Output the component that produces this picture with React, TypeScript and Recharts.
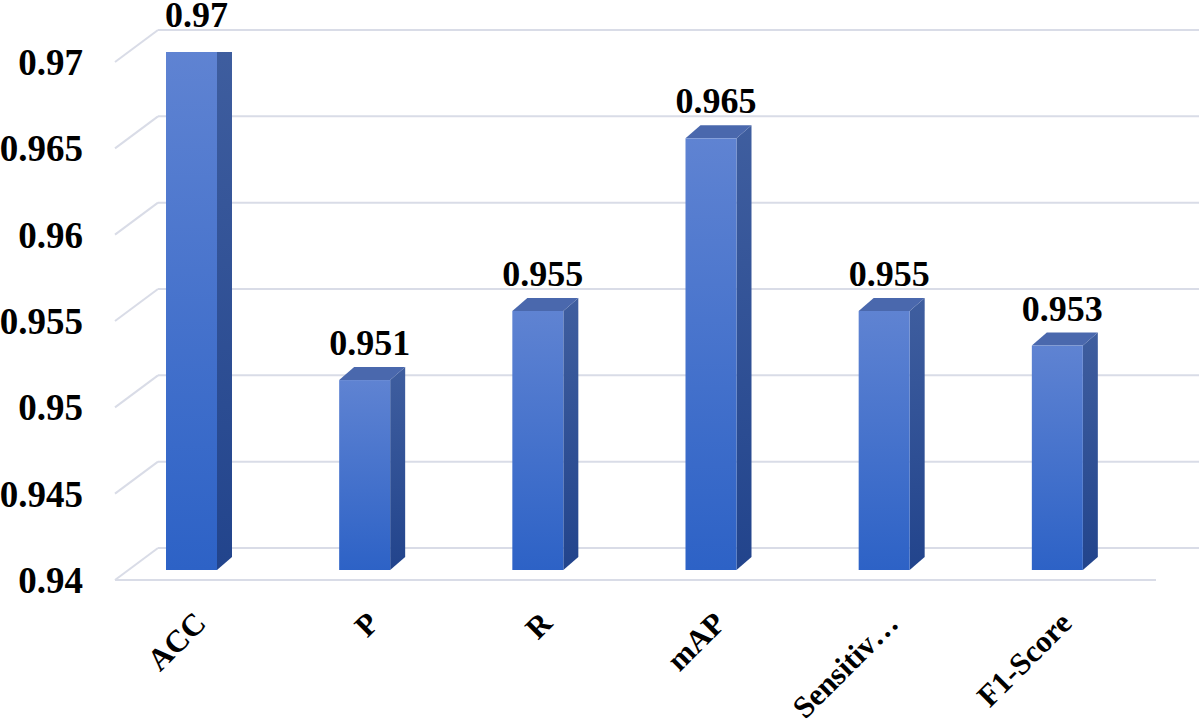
import React from 'react';
import { BarChart, Bar, XAxis, YAxis, CartesianGrid, LabelList } from 'recharts';

const categories = ['ACC', 'P', 'R', 'mAP', 'Sensitiv…', 'F1-Score'];
const scores = [0.97, 0.951, 0.955, 0.965, 0.955, 0.953];
const yTicks = [0.94, 0.945, 0.95, 0.955, 0.96, 0.965, 0.97];
const yTickLabels = ['0.94', '0.945', '0.95', '0.955', '0.96', '0.965', '0.97'];

const data = categories.map((name, i) => ({ name, value: scores[i] }));

const FONT = 'Liberation Serif';
const GRID = '#d9dce7';
// 3D depth of each bar
const DX = 15;
const DY = 13;

const Bar3D = (props: any) => {
  const { x, y, width, height, index } = props;
  const f = `front-${index}`;
  const s = `side-${index}`;
  return (
    <g>
      <defs>
        <linearGradient id={f} x1="0" y1="0" x2="0" y2="1">
          <stop offset="0%" stopColor="#5f83d2" />
          <stop offset="100%" stopColor="#2d62c6" />
        </linearGradient>
        <linearGradient id={s} x1="0" y1="0" x2="0" y2="1">
          <stop offset="0%" stopColor="#3f5e9f" />
          <stop offset="100%" stopColor="#22448c" />
        </linearGradient>
      </defs>
      <polygon
        points={`${x + width},${y} ${x + width + DX},${y - DY} ${x + width + DX},${y + height - DY} ${x + width},${y + height}`}
        fill={`url(#${s})`}
      />
      <polygon
        points={`${x},${y} ${x + DX},${y - DY} ${x + width + DX},${y - DY} ${x + width},${y}`}
        fill="#4a68ad"
      />
      <rect x={x} y={y} width={width} height={height} fill={`url(#${f})`} />
    </g>
  );
};

// back wall line + slanted side line, plus the front floor edge for the lowest tick
const GridLine = (props: any) => {
  const { x1, x2, y1, index } = props;
  const backY = y1 - 22;
  const frontY = y1 + 10;
  return (
    <g key={`grid-${index}`}>
      <line x1={x1 + 10} y1={frontY} x2={x1 + 53} y2={backY} stroke={GRID} strokeWidth={2} />
      <line x1={x1 + 53} y1={backY} x2={x2 + 55} y2={backY} stroke={GRID} strokeWidth={2} />
      {props.y !== undefined && props.height !== undefined && Math.abs(y1 - (props.y + props.height)) < 2 ? (
        <line x1={x1 + 10} y1={frontY} x2={x2 + 12} y2={frontY} stroke={GRID} strokeWidth={2} />
      ) : null}
    </g>
  );
};

const YTick = (props: any) => {
  const { y, payload } = props;
  const i = yTicks.indexOf(payload.value);
  return (
    <text x={83} y={y + 23} textAnchor="end" fontFamily={FONT} fontWeight="bold" fontSize={37} fill="#000">
      {i >= 0 ? yTickLabels[i] : payload.value}
    </text>
  );
};

const XTick = (props: any) => {
  const { x, payload } = props;
  const ax = x + 16;
  const ay = 625;
  return (
    <text
      x={ax}
      y={ay}
      transform={`rotate(-45, ${ax}, ${ay})`}
      textAnchor="end"
      fontFamily={FONT}
      fontWeight="bold"
      fontSize={31}
      fill="#000"
    >
      {payload.value}
    </text>
  );
};

const ValueLabel = (props: any) => {
  const { x, y, width, value } = props;
  return (
    <text
      x={x + width / 2 + 5}
      y={y - 25}
      textAnchor="middle"
      fontFamily={FONT}
      fontWeight="bold"
      fontSize={36}
      fill="#000"
    >
      {value}
    </text>
  );
};

export default function App() {
  return (
    <div style={{ width: 1203, height: 727, background: '#fff' }}>
      <style>{'body{margin:0;}'}</style>
      <BarChart
        width={1203}
        height={727}
        data={data}
        margin={{ top: 52, right: 59, bottom: 0, left: 0 }}
        barCategoryGap={0}
      >
        <CartesianGrid vertical={false} horizontal={GridLine} />
        <XAxis dataKey="name" axisLine={false} tickLine={false} interval={0} height={157} tick={XTick} />
        <YAxis
          domain={[0.94, 0.97]}
          ticks={yTicks}
          allowDataOverflow
          axisLine={false}
          tickLine={false}
          width={105}
          tick={YTick}
        />
        <Bar dataKey="value" barSize={51} shape={Bar3D} isAnimationActive={false}>
          <LabelList dataKey="value" content={ValueLabel} />
        </Bar>
      </BarChart>
    </div>
  );
}
